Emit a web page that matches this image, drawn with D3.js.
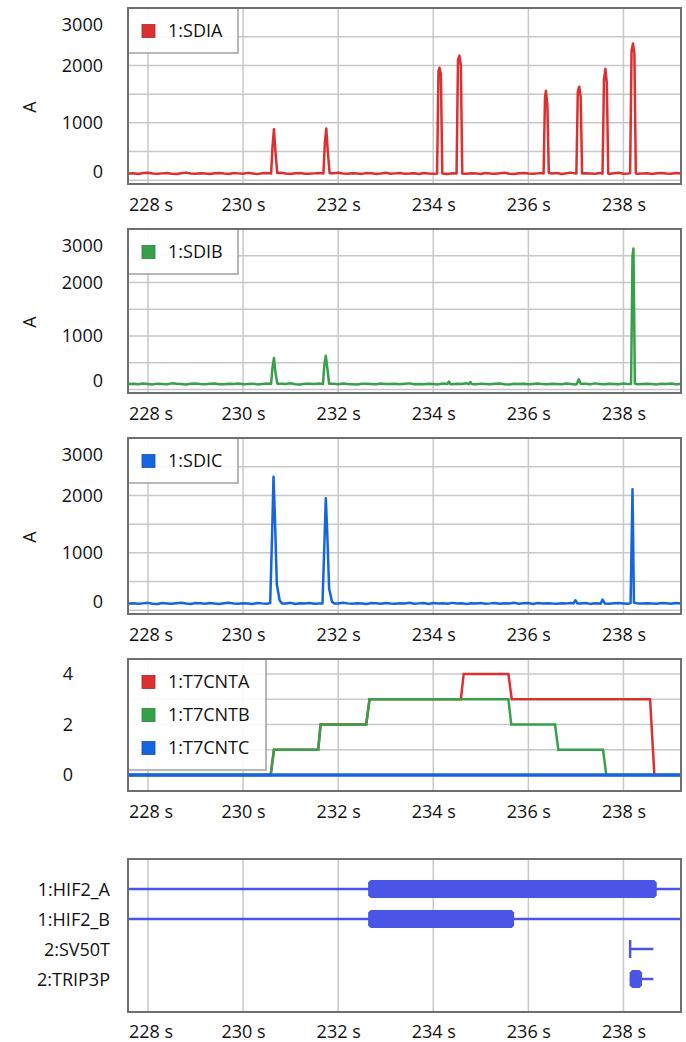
<!DOCTYPE html>
<html>
<head>
<meta charset="utf-8">
<script src="https://cdn.jsdelivr.net/npm/d3@7"></script>
<style>
  body { margin: 0; background: #fff; }
  svg text { font-family: "Open Sans", "Segoe UI", sans-serif; font-size: 18px; fill: #111; }
</style>
</head>
<body>
<svg id="chart" width="686" height="1042"></svg>
<script>
// ---- data ----
var timeTicks = [228, 230, 232, 234, 236, 238];
var timeDomain = [227.58, 239.21];
var ampTicks = [0, 1000, 2000, 3000];
var ampGrid = [0, 500, 1000, 1500, 2000, 2500, 3000];
var cntTicks = [0, 2, 4];
var cntGrid = [0, 1, 2, 3, 4];

// baseline samples every 0.1 s from 227.6 s
var sampleStart = 227.6, sampleStep = 0.1;

var sdiaBase = [118,122,110,125,130,118,112,120,127,115, 108,121,133,119,112,124,117,109,122,128,
  116,111,125,120,113,129,118,107,121,126, 114,119,131,117,110,123,127,115,112,120,
  125,118,109,122,130,116,113,124,119,111, 127,121,108,118,132,115,120,126,113,117,
  123,110,128,119,114,125,117,108,122,129, 116,112,124,120,109,127,118,113,121,131,
  115,110,123,126,117,112,120,128,114,119, 125,108,121,133,116,111,124,118,113,127,
  120,109,122,130,115,118,126,112,119,124, 110,121,128,116,113,125,117];

var sdibBase = [102,108,98,112,105,96,110,104,99,115, 107,101,95,109,113,103,98,106,111,100,
  97,108,104,114,99,102,110,96,105,112, 101,98,107,103,116,100,95,109,106,102,
  111,97,104,108,99,113,105,100,96,107, 110,103,98,112,104,101,109,97,106,115,
  100,104,99,108,102,96,111,105,98,107, 103,118,101,97,110,104,99,106,112,100,
  95,108,103,109,98,105,113,101,97,107, 104,99,111,102,96,108,106,100,115,103,
  98,109,104,97,112,101,107,99,105,110, 102,96,108,103,111,98,104];

var sdicBase = [118,124,112,120,129,115,110,126,119,113, 122,131,117,108,125,121,114,127,118,111,
  123,130,116,112,124,119,109,128,120,115, 121,126,113,117,129,110,122,118,125,114,
  119,127,111,123,116,130,120,113,124,118, 109,126,121,115,128,117,112,123,119,131,
  114,120,125,110,127,118,122,113,129,116, 121,111,124,119,126,115,120,128,112,123,
  117,130,114,121,125,109,127,118,122,116, 113,124,120,128,115,119,126,111,123,117,
  129,114,121,125,118,112,127,120,116,124, 119,113,126,121,115,128,118];

// spikes: groups of [time s, value A]
var sdiaSpikes = [
  [[230.59,118],[230.62,600],[230.65,890],[230.68,500],[230.72,125]],
  [[231.69,120],[231.72,650],[231.75,900],[231.78,520],[231.82,122]],
  [[234.08,118],[234.11,1900],[234.13,1960],[234.16,1850],[234.19,120]],
  [[234.49,120],[234.52,2100],[234.55,2170],[234.58,2000],[234.61,118]],
  [[236.32,118],[236.35,1450],[236.37,1560],[236.40,1300],[236.43,125]],
  [[237.01,120],[237.04,1550],[237.07,1630],[237.10,1450],[237.13,118]],
  [[237.56,118],[237.59,1750],[237.62,1940],[237.65,1700],[237.68,120]],
  [[238.14,122],[238.17,2250],[238.20,2380],[238.23,2200],[238.26,118]]
];
var sdibSpikes = [
  [[230.59,105],[230.62,420],[230.65,590],[230.68,330],[230.72,110]],
  [[231.68,102],[231.71,460],[231.74,630],[231.77,420],[231.81,108]],
  [[234.30,104],[234.33,150],[234.36,103]],
  [[234.75,100],[234.78,140],[234.81,105]],
  [[237.02,105],[237.06,190],[237.10,108]],
  [[238.16,104],[238.19,2500],[238.21,2635],[238.24,110]]
];
var sdicSpikes = [
  [[230.57,125],[230.61,1300],[230.64,2327],[230.67,1600],[230.71,450],[230.77,170],[230.82,120]],
  [[231.67,120],[231.71,1150],[231.74,1951],[231.77,1350],[231.81,380],[231.87,150],[231.92,118]],
  [[236.95,118],[236.99,175],[237.03,120]],
  [[237.52,115],[237.56,185],[237.61,118]],
  [[238.15,125],[238.19,2108],[238.22,130]]
];

var cntNames = ["1:T7CNTA", "1:T7CNTB", "1:T7CNTC"];
var cntA = [[227.5,0],[230.58,0],[230.65,1],[231.58,1],[231.63,2],[232.59,2],[232.66,3],[234.58,3],[234.64,4],
  [235.58,4],[235.65,3],[238.56,3],[238.65,0],[239.3,0]];
var cntB = [[227.5,0],[230.58,0],[230.65,1],[231.58,1],[231.63,2],[232.59,2],[232.66,3],[235.58,3],[235.64,2],
  [236.56,2],[236.63,1],[237.57,1],[237.64,0],[239.3,0]];
var cntC = [[227.5,0],[239.3,0]];

var eventRows  = ["1:HIF2_A", "1:HIF2_B", "2:SV50T", "2:TRIP3P"];
var eventLines = [[227.5,239.3], [227.5,239.3], [238.14,238.63], [238.13,238.63]];
var eventBars  = [[232.63,238.70], [232.63,235.70], null, [238.13,238.39]];
var eventMarks = [null, null, 238.14, null];

// ---- look ----
var red = "#dc2f2f", green = "#37a04a", blue = "#1565e0", violet = "#4a55e8";
var plotLeft = 128, plotRight = 681;

var svg = d3.select("#chart");
var x = d3.scaleLinear().domain(timeDomain).range([plotLeft, plotRight]);
var line = d3.line().x(function(d) { return x(d[0]); }).y(function(d) { return d[2]; });

function buildSeries(base, spikes) {
  var pts = base.map(function(v, i) { return [sampleStart + i * sampleStep, v]; });
  pts = pts.filter(function(p) {
    return !spikes.some(function(g) { return p[0] >= g[0][0] && p[0] <= g[g.length-1][0]; });
  });
  spikes.forEach(function(g) { pts = pts.concat(g); });
  return pts.sort(function(a, b) { return a[0] - b[0]; });
}

var clipId = 0;
function frame(top, bottom, labelY) {
  var g = svg.append("g");
  var id = "clip" + (clipId++);
  g.append("clipPath").attr("id", id).append("rect")
    .attr("x", plotLeft).attr("y", top).attr("width", plotRight - plotLeft).attr("height", bottom - top);
  g.append("rect").attr("x", plotLeft).attr("y", top)
    .attr("width", plotRight - plotLeft).attr("height", bottom - top).attr("fill", "#fff");
  g.append("g").selectAll("line").data(timeTicks).enter().append("line")
    .attr("x1", x).attr("x2", x).attr("y1", top).attr("y2", bottom)
    .attr("stroke", "#c8c8c8").attr("stroke-width", 1.5);
  // time axis
  var ax = g.append("g").attr("transform", "translate(0," + bottom + ")")
    .call(d3.axisBottom(x).tickValues(timeTicks).tickSize(0).tickFormat(function(d) { return d + " s"; }));
  ax.select(".domain").remove();
  ax.selectAll("text").attr("y", labelY || 21).attr("dy", "0.35em").attr("font-size", null).attr("font-family", null)
    .each(function() {
      var t = d3.select(this), w = this.getComputedTextLength();
      var cx = +d3.select(this.parentNode).attr("transform").match(/translate\(([-\d.]+)/)[1];
      if (cx - w / 2 < plotLeft + 1) t.attr("x", plotLeft + 1 + w / 2 - cx);
    });
  g.clip = "url(#" + id + ")";
  return g;
}

function border(g, top, bottom) {
  g.append("rect").attr("x", plotLeft).attr("y", top)
    .attr("width", plotRight - plotLeft).attr("height", bottom - top)
    .attr("fill", "none").attr("stroke", "#6e6e6e").attr("stroke-width", 2);
}

function yAxis(g, y, ticks, top, bottom, right) {
  var ax = g.append("g").attr("transform", "translate(" + right + ",0)")
    .call(d3.axisLeft(y).tickValues(ticks).tickSize(0).tickPadding(0).tickFormat(d3.format("d")));
  ax.select(".domain").remove();
  ax.selectAll(".tick").attr("transform", function(d) {
    return "translate(0," + Math.max(top + 17, Math.min(bottom - 12, y(d))) + ")";
  });
  ax.selectAll("text").attr("font-size", null).attr("font-family", null).attr("dy", "0.35em");
}

function legend(g, items, top, w) {
  var h = items.length == 1 ? 45 : 111;
  var step = 33;
  g.append("rect").attr("x", plotLeft).attr("y", top).attr("width", w).attr("height", h)
    .attr("fill", "#fff").attr("fill-opacity", 0.9).attr("stroke", "#a0a0a0").attr("stroke-width", 1.5);
  items.forEach(function(it, i) {
    var cy = top + (items.length == 1 ? 23 : 23 + i * step);
    g.append("rect").attr("x", 142).attr("y", cy - 6.5).attr("width", 13).attr("height", 13)
      .attr("fill", it.color).attr("stroke", d3.color(it.color).darker(0.6)).attr("stroke-width", 0.8);
    g.append("text").attr("x", 168).attr("y", cy).attr("dy", "0.35em").text(it.name);
  });
}

function analogPanel(top, bottom, name, color, base, spikes) {
  var g = frame(top, bottom);
  var y = d3.scaleLinear().domain([-65, 3000]).range([bottom, top]);
  g.append("g").selectAll("line").data(ampGrid).enter().append("line")
    .attr("x1", plotLeft).attr("x2", plotRight).attr("y1", y).attr("y2", y)
    .attr("stroke", "#c8c8c8").attr("stroke-width", 1.5);
  var pts = buildSeries(base, spikes).map(function(p) { return [p[0], p[1], y(p[1])]; });
  g.append("path").datum(pts).attr("clip-path", g.clip).attr("d", line)
    .attr("fill", "none").attr("stroke", color).attr("stroke-width", 2.5).attr("stroke-linejoin", "round");
  legend(g, [{name: name, color: color}], top, 110);
  border(g, top, bottom);
  yAxis(g, y, ampTicks, top, bottom, 103);
  g.append("text").attr("transform", "translate(30," + ((top + bottom) / 2 + 11) + ") rotate(-90)")
    .attr("text-anchor", "middle").attr("dy", "0.35em").text("A");
}

analogPanel(8, 184, "1:SDIA", red, sdiaBase, sdiaSpikes);
analogPanel(229, 393, "1:SDIB", green, sdibBase, sdibSpikes);
analogPanel(438, 614, "1:SDIC", blue, sdicBase, sdicSpikes);

// ---- counters ----
(function() {
  var top = 659, bottom = 791;
  var g = frame(top, bottom);
  var y = d3.scaleLinear().domain([-0.63, 4.59]).range([bottom, top]);
  g.append("g").selectAll("line").data(cntGrid).enter().append("line")
    .attr("x1", plotLeft).attr("x2", plotRight).attr("y1", y).attr("y2", y)
    .attr("stroke", "#c8c8c8").attr("stroke-width", 1.5);
  var series = [[cntA, red, 2.5], [cntB, green, 2.5], [cntC, blue, 3.5]];
  series.forEach(function(s) {
    var pts = s[0].map(function(p) { return [p[0], p[1], y(p[1])]; });
    g.append("path").datum(pts).attr("clip-path", g.clip).attr("d", line)
      .attr("fill", "none").attr("stroke", s[1]).attr("stroke-width", s[2]);
  });
  legend(g, cntNames.map(function(n, i) { return {name: n, color: series[i][1]}; }), top, 138);
  border(g, top, bottom);
  yAxis(g, y, cntTicks, top - 10, bottom + 10, 73);
})();

// ---- events ----
(function() {
  var top = 859, bottom = 1012;
  var g = frame(top, bottom, 20);
  var y = d3.scalePoint().domain(eventRows).range([889, 979]);
  var hh = 9, c = 2.5;
  eventRows.forEach(function(r, i) {
    var cy = y(r);
    var l = eventLines[i];
    g.append("line").attr("clip-path", g.clip).attr("x1", x(l[0])).attr("x2", x(l[1]))
      .attr("y1", cy).attr("y2", cy).attr("stroke", violet).attr("stroke-width", 2.5);
    if (eventBars[i]) {
      var x0 = x(eventBars[i][0]), x1 = x(eventBars[i][1]);
      g.append("path").attr("fill", violet).attr("d",
        "M" + x0 + "," + (cy - hh + c) + "L" + (x0 + c) + "," + (cy - hh) + "L" + (x1 - c) + "," + (cy - hh) +
        "L" + x1 + "," + (cy - hh + c) + "L" + x1 + "," + (cy + hh - c) + "L" + (x1 - c) + "," + (cy + hh) +
        "L" + (x0 + c) + "," + (cy + hh) + "L" + x0 + "," + (cy + hh - c) + "Z");
    }
    if (eventMarks[i] != null) {
      g.append("line").attr("x1", x(eventMarks[i])).attr("x2", x(eventMarks[i]))
        .attr("y1", cy - 9).attr("y2", cy + 9).attr("stroke", violet).attr("stroke-width", 2.5);
    }
  });
  border(g, top, bottom);
  var ax = g.append("g").attr("transform", "translate(110,0)")
    .call(d3.axisLeft(y).tickSize(0).tickPadding(0));
  ax.select(".domain").remove();
  ax.selectAll("text").attr("font-size", null).attr("font-family", null).attr("dy", "0.35em");
})();
</script>
</body>
</html>
